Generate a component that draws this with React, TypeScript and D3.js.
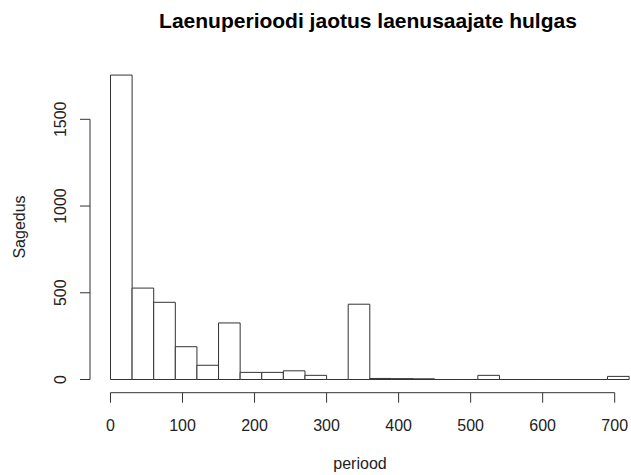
import React, { useRef, useEffect } from 'react';
import * as d3 from 'd3';

// histogram bins (width 30) and counts
const binStarts = [0, 30, 60, 90, 120, 150, 180, 210, 240, 270, 300, 330, 360, 390, 420, 450, 480, 510, 540, 570, 600, 630, 660, 690];
const counts = [1755, 527, 445, 189, 82, 326, 41, 41, 50, 24, 0, 434, 6, 5, 4, 0, 0, 24, 0, 0, 0, 0, 0, 18];
const binWidth = 30;
const xTicks = [0, 100, 200, 300, 400, 500, 600, 700];
const yTicks = [0, 500, 1000, 1500];

const title = 'Laenuperioodi jaotus laenusaajate hulgas';
const xLabel = 'periood';
const yLabel = 'Sagedus';

const App: React.FC = () => {
    const svgRef = useRef<SVGSVGElement | null>(null);
    const width = 631;
    const height = 475;

    useEffect(() => {
        if (!svgRef.current) return;
        const svg = d3.select(svgRef.current);
        svg.selectAll('*').remove();

        const font = '"Liberation Sans", Arial, sans-serif';

        const xScale = d3.scaleLinear().domain([0, 700]).range([110.5, 614.7]);
        const yScale = d3.scaleLinear().domain([0, 1500]).range([379.5, 119.3]);

        // bars as closed paths so empty bins still show as a line on the baseline
        svg.append('g')
            .selectAll('path')
            .data(binStarts)
            .enter()
            .append('path')
            .attr('d', (d, i) => {
                const x0 = xScale(d);
                const x1 = xScale(d + binWidth);
                const y0 = yScale(0);
                const y1 = yScale(counts[i]);
                return `M${x0},${y0}V${y1}H${x1}V${y0}Z`;
            })
            .attr('fill', 'white')
            .attr('stroke', '#333')
            .attr('stroke-width', 1);

        // x axis
        const axisY = 392.7;
        const xAxis = svg.append('g').attr('stroke', '#333').attr('stroke-width', 1);
        xAxis.append('line')
            .attr('x1', xScale(0)).attr('x2', xScale(700))
            .attr('y1', axisY).attr('y2', axisY);
        xTicks.forEach((t) => {
            xAxis.append('line')
                .attr('x1', xScale(t)).attr('x2', xScale(t))
                .attr('y1', axisY).attr('y2', axisY + 10);
            svg.append('text')
                .attr('x', xScale(t))
                .attr('y', 431)
                .attr('text-anchor', 'middle')
                .attr('font-family', font)
                .attr('font-size', 16)
                .attr('fill', '#222')
                .text(t);
        });

        // y axis
        const axisX = 90;
        const yAxis = svg.append('g').attr('stroke', '#333').attr('stroke-width', 1);
        yAxis.append('line')
            .attr('x1', axisX).attr('x2', axisX)
            .attr('y1', yScale(0)).attr('y2', yScale(1500));
        yTicks.forEach((t) => {
            yAxis.append('line')
                .attr('x1', axisX - 10).attr('x2', axisX)
                .attr('y1', yScale(t)).attr('y2', yScale(t));
            svg.append('text')
                .attr('transform', `translate(65.5, ${yScale(t)}) rotate(-90)`)
                .attr('text-anchor', 'middle')
                .attr('font-family', font)
                .attr('font-size', 16)
                .attr('fill', '#222')
                .text(t);
        });

        // title and labels
        svg.append('text')
            .attr('x', 368)
            .attr('y', 28)
            .attr('text-anchor', 'middle')
            .attr('font-family', font)
            .attr('font-size', 21)
            .attr('font-weight', 'bold')
            .attr('fill', 'black')
            .text(title);

        svg.append('text')
            .attr('x', 360)
            .attr('y', 469)
            .attr('text-anchor', 'middle')
            .attr('font-family', font)
            .attr('font-size', 16)
            .attr('fill', '#222')
            .text(xLabel);

        svg.append('text')
            .attr('transform', `translate(25, 227) rotate(-90)`)
            .attr('text-anchor', 'middle')
            .attr('font-family', font)
            .attr('font-size', 16)
            .attr('fill', '#222')
            .text(yLabel);
    }, []);

    return (
        <div style={{ position: 'absolute', left: 0, top: 0 }}>
            <svg ref={svgRef} width={width} height={height} style={{ display: 'block', background: 'white' }} />
        </div>
    );
};

export default App;
